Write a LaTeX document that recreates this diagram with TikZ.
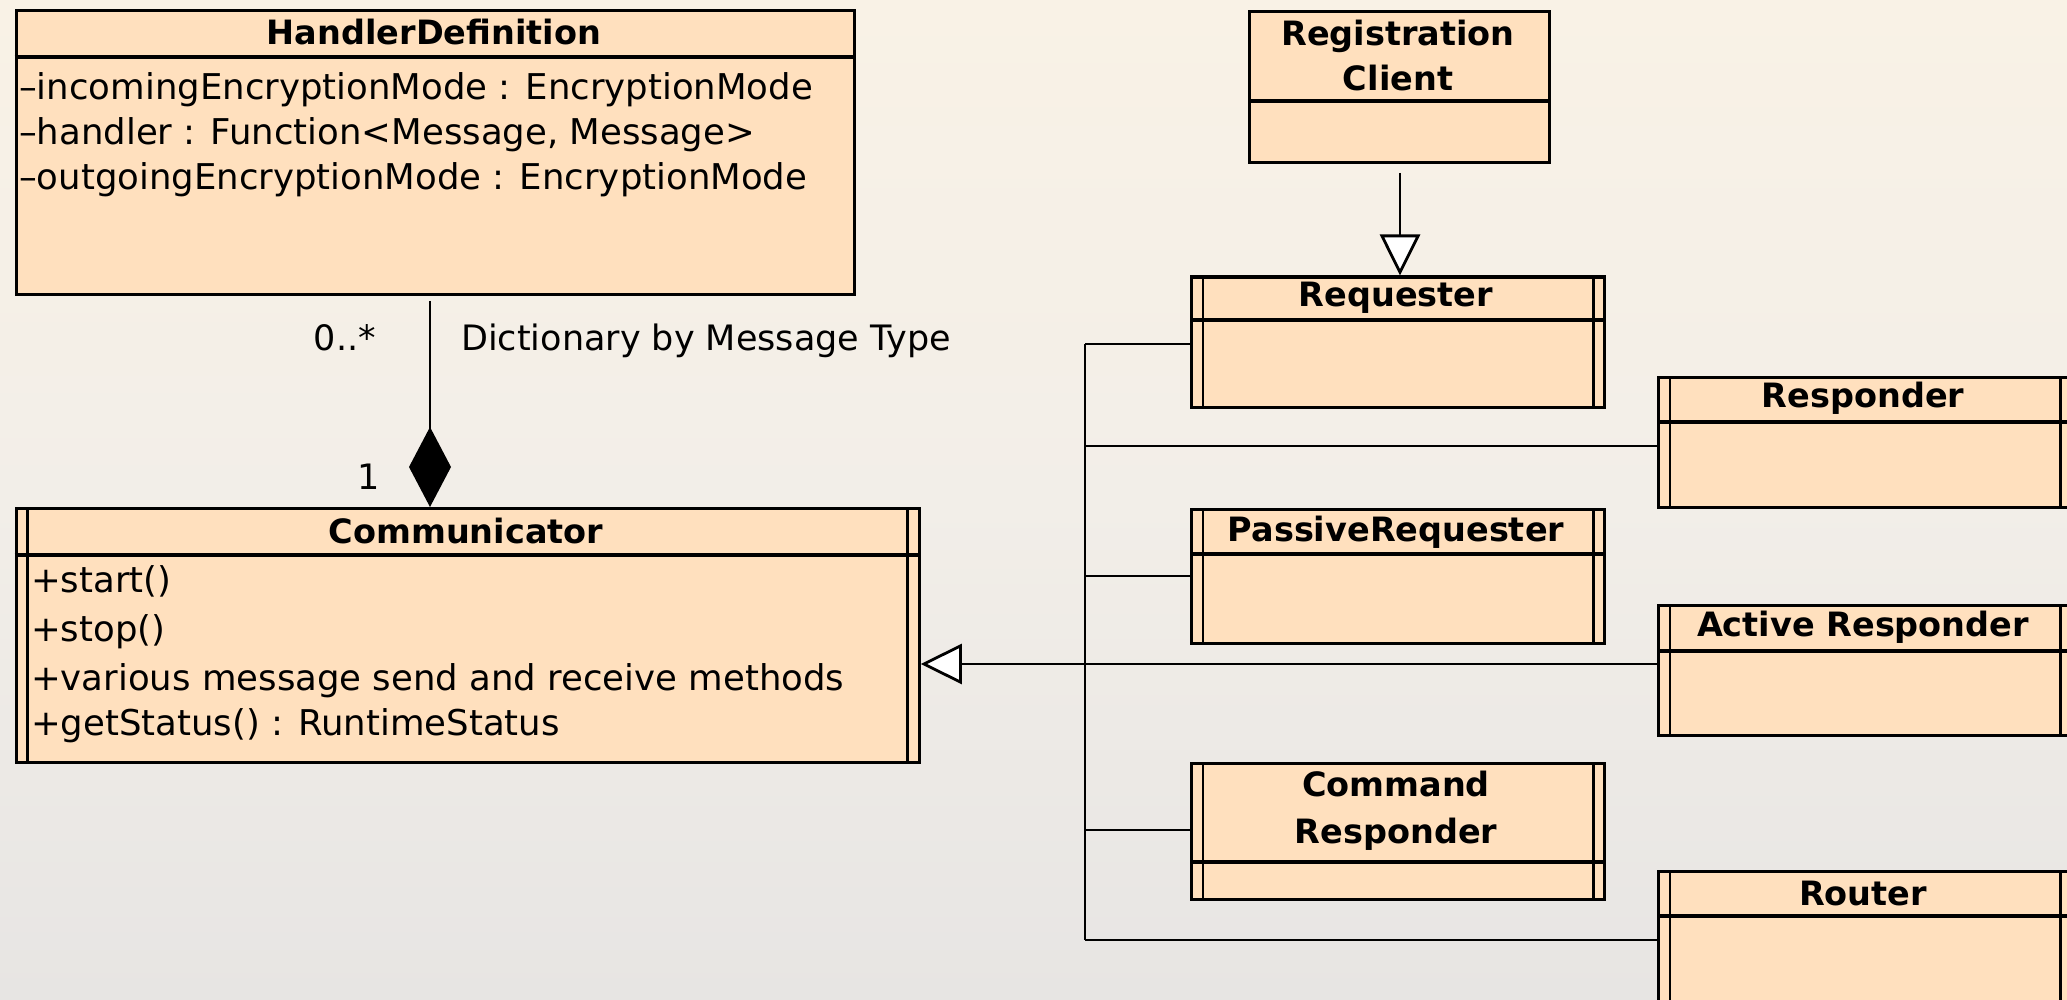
\documentclass[tikz,border=0pt]{standalone}
\usepackage{fontspec}
\setmainfont{DejaVu Sans}
\usetikzlibrary{arrows.meta,calc}

\definecolor{classfill}{RGB}{255,224,190}
\definecolor{bgtop}{RGB}{249,242,230}
\definecolor{bgmid}{RGB}{242,238,232}
\definecolor{bgbot}{RGB}{231,229,227}

\tikzset{
  classbox/.style={draw=black, line width=3.3pt, fill=classfill, inner sep=0pt, anchor=north west},
  sepline/.style={draw=black, line width=3.1pt},
  activeline/.style={draw=black, line width=2.8pt},
  classtitle/.style={font=\fontsize{33.5}{40}\selectfont\bfseries, inner sep=0pt, align=center},
  member/.style={font=\fontsize{35.5}{42}\selectfont, inner sep=0pt, anchor=west,
                 text height=27pt, text depth=8pt},
  lbl/.style={font=\fontsize{35}{42}\selectfont, inner sep=0pt},
  conn/.style={draw=black, line width=2.8pt},
  composition/.style={conn, -{Diamond[length=80pt, width=42pt]}},
  generalization/.style={conn, -{Triangle[open, length=41pt, width=40pt, fill=white]}},
}

% a class with the double side borders of an active class
\newcommand{\activeborders}[1]{%
  \draw[activeline] ([xshift=13pt]#1.north west) -- ([xshift=13pt]#1.south west);
  \draw[activeline] ([xshift=-13pt]#1.north east) -- ([xshift=-13pt]#1.south east);
}

\begin{document}
\begin{tikzpicture}[x=1pt, y=-1pt]
\useasboundingbox (0,0) rectangle (2067,1000);
\clip (0,0) rectangle (2067,1000);

% background
\shade[top color=bgtop, bottom color=bgbot, middle color=bgmid] (0,0) rectangle (2067,1000);

% ---------- HandlerDefinition ----------
\node[classbox, minimum width=838pt, minimum height=284pt] (hd) at (14.5,9) {};
\draw[sepline] (hd.west |- 0,57) -- (hd.east |- 0,57);
\node[classtitle] (hdt) at (434,32) {HandlerDefinition};
\node[member] (hda1) at (19,90) {–incomingEncryptionMode : EncryptionMode};
\node[member] (hda2) at (19,135) {–handler : Function<Message, Message>};
\node[member] (hda3) at (19,180) {–outgoingEncryptionMode : EncryptionMode};

% ---------- Communicator ----------
\node[classbox, minimum width=903pt, minimum height=254pt] (comm) at (14.5,507) {};
\draw[sepline] (comm.west |- 0,555) -- (comm.east |- 0,555);
\activeborders{comm}
\node[classtitle] (commt) at (466,531) {Communicator};
\node[member] (cm1) at (31,583) {+start()};
\node[member] (cm2) at (31,632) {+stop()};
\node[member] (cm3) at (31,681) {+various message send and receive methods};
\node[member] (cm4) at (31,726) {+getStatus() : RuntimeStatus};

% ---------- Registration Client ----------
\node[classbox, minimum width=300pt, minimum height=151pt] (rc) at (1248,10) {};
\draw[sepline] (rc.west |- 0,101) -- (rc.east |- 0,101);
\node[classtitle] (rct) at (1398,56) {Registration\\[5pt]Client};

% ---------- Requester ----------
\node[classbox, minimum width=413pt, minimum height=130pt] (req) at (1190,275.5) {};
\draw[sepline] (req.west |- 0,320) -- (req.east |- 0,320);
\activeborders{req}
\node[classtitle] (reqt) at (1396,298) {Requester};

% ---------- PassiveRequester ----------
\node[classbox, minimum width=413pt, minimum height=134pt] (preq) at (1190,508) {};
\draw[sepline] (preq.west |- 0,554) -- (preq.east |- 0,554);
\activeborders{preq}
\node[classtitle] (preqt) at (1396,532) {PassiveRequester};

% ---------- Command Responder ----------
\node[classbox, minimum width=413pt, minimum height=136pt] (cmdr) at (1190,762) {};
\draw[sepline] (cmdr.west |- 0,862) -- (cmdr.east |- 0,862);
\activeborders{cmdr}
\node[classtitle] (cmdrt) at (1396,811) {Command\\[7pt]Responder};

% ---------- Responder ----------
\node[classbox, minimum width=413pt, minimum height=130pt] (resp) at (1657,376) {};
\draw[sepline] (resp.west |- 0,422) -- (resp.east |- 0,422);
\activeborders{resp}
\node[classtitle] (respt) at (1863,398) {Responder};

% ---------- Active Responder ----------
\node[classbox, minimum width=413pt, minimum height=130pt] (aresp) at (1657,604) {};
\draw[sepline] (aresp.west |- 0,651) -- (aresp.east |- 0,651);
\activeborders{aresp}
\node[classtitle] (arespt) at (1863,627) {Active Responder};

% ---------- Router ----------
\node[classbox, minimum width=413pt, minimum height=200pt] (rtr) at (1657,870) {};
\draw[sepline] (rtr.west |- 0,916) -- (rtr.east |- 0,916);
\activeborders{rtr}
\node[classtitle] (rtrt) at (1863,894) {Router};

% ---------- composition: HandlerDefinition -> Communicator ----------
\coordinate (cstart) at (430,301);
\draw[composition] (cstart) -- (cstart |- comm.north);
\node[lbl] (mult0) at (345,338) {0..*};
\node[lbl, anchor=west] (dictlbl) at (461,341) {Dictionary by Message Type};
\node[lbl] (mult1) at (369,477) {1};

% ---------- generalizations ----------
\coordinate (rcstart) at (1400,173);
\draw[generalization] (rcstart) -- (rcstart |- req.north);

\coordinate (bus) at (1085,664);
\draw[generalization] (aresp.west |- bus) -- (comm.east |- bus);
\draw[conn] (bus |- 0,344) -- (bus |- 0,940);
\draw[conn] (bus |- 0,344) -- (req.west |- 0,344);
\draw[conn] (bus |- 0,446) -- (resp.west |- 0,446);
\draw[conn] (bus |- 0,576) -- (preq.west |- 0,576);
\draw[conn] (bus |- 0,830) -- (cmdr.west |- 0,830);
\draw[conn] (bus |- 0,940) -- (rtr.west |- 0,940);
\end{tikzpicture}
\end{document}
